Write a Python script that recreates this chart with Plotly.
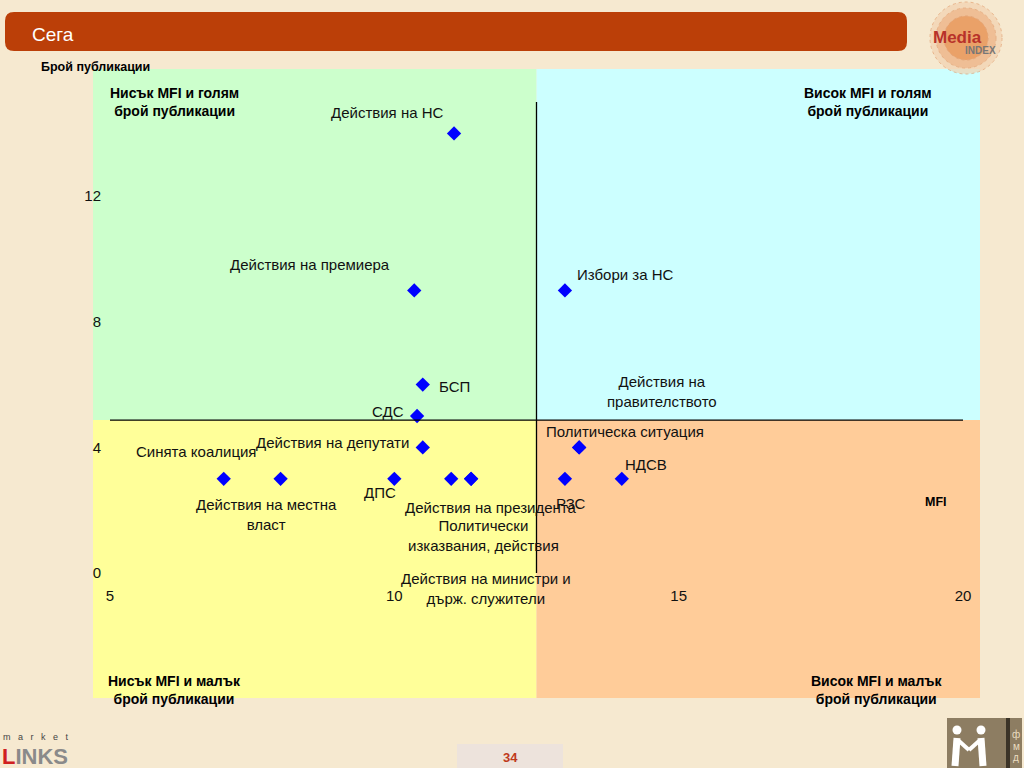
import plotly.graph_objects as go

# ---------------- data ----------------
labels = [
    "Действия на НС", "Действия на премиера", "Избори за НС", "БСП", "СДС",
    "Действия на депутати", "Политическа ситуация", "Действия на<br>правителството",
    "Синята коалиция", "Действия на местна<br>власт", "ДПС",
    "Действия на президента", "Политически<br>изказвания, действия",
    "Действия на министри и<br>държ. служители", "РЗС", "НДСВ",
]
mfi = [11.05, 10.35, 13.0, 10.5, 10.4, 10.5, 13.25, 13.25,
       7.0, 8.0, 10.0, 11.35, 11.0, 11.35, 13.0, 14.0]
publications = [14, 9, 9, 6, 5, 4, 4, 4,
                3, 3, 3, 3, 3, 3, 3, 3]
x_ticks = [5, 10, 15, 20]
y_ticks = [0, 4, 8, 12]
x_cross = 12.5
y_cross = 4.87
quadrant_titles = ["Нисък MFI и голям<br>брой публикации",
                   "Висок MFI и голям<br>брой публикации",
                   "Нисък MFI и малък<br>брой публикации",
                   "Висок MFI и малък<br>брой публикации"]

# label offsets in pixels (dx right, dy down)
offsets = [(-67, -21), (-104, -26), (61, -16), (32, 2), (-29, -5),
           (-90, -5), (46, -16), (83, -56),
           (-28, -27), (-14, 36), (-14, 14),
           (19, 29), (32, 57), (15, 110), (6, 25), (24, -14)]

# ---------------- geometry ----------------
W, H = 1024, 768
L, R, T, B = 110, 963, 102, 573
XR = [5, 20]
YR = [0, 15]

def px(xp):
    return (xp - L) / (R - L)

def py(yp):
    return (B - yp) / (B - T)

FONT = "Liberation Sans, Arial, sans-serif"

fig = go.Figure()
fig.add_trace(go.Scatter(
    x=mfi, y=publications, mode="markers",
    marker=dict(symbol="diamond", size=11, color="#0000ff"),
    hoverinfo="skip", showlegend=False,
))

shapes = []
ann = []

def prect(x0, x1, y0, y1, col, **kw):
    shapes.append(dict(type="rect", xref="paper", yref="paper", x0=px(x0), x1=px(x1),
                       y0=py(y1), y1=py(y0), fillcolor=col, line=dict(width=0), layer="below", **kw))

def pline(x0, y0, x1, y1, col, w):
    shapes.append(dict(type="line", xref="paper", yref="paper", x0=px(x0), x1=px(x1),
                       y0=py(y0), y1=py(y1), line=dict(color=col, width=w), layer="below"))

# quadrant backgrounds
xc = (x_cross - XR[0]) / (XR[1] - XR[0])
yc = (y_cross - YR[0]) / (YR[1] - YR[0])
qx0, qx1, qy0, qy1 = px(93), px(980), py(698), py(69)
for (a, b, c, d, col) in [
    (qx0, xc, yc, qy1, "#ccffcc"),
    (xc, qx1, yc, qy1, "#ccffff"),
    (qx0, xc, qy0, yc, "#ffff99"),
    (xc, qx1, qy0, yc, "#ffcc99"),
]:
    shapes.append(dict(type="rect", xref="paper", yref="paper", x0=a, x1=b, y0=c, y1=d,
                       fillcolor=col, line=dict(width=0), layer="below"))

# axis cross lines
shapes.append(dict(type="line", xref="x", yref="y", x0=x_cross, x1=x_cross, y0=YR[0], y1=YR[1],
                   line=dict(color="#000000", width=1.3)))
shapes.append(dict(type="line", xref="x", yref="y", x0=XR[0], x1=XR[1], y0=y_cross, y1=y_cross,
                   line=dict(color="#000000", width=1.3)))

# header bar (rounded)
hx0, hx1, hy0, hy1, r = 5, 907, 12, 51, 9
path = (f"M {px(hx0 + r)},{py(hy0)} L {px(hx1 - r)},{py(hy0)} "
        f"Q {px(hx1)},{py(hy0)} {px(hx1)},{py(hy0 + r)} L {px(hx1)},{py(hy1 - r)} "
        f"Q {px(hx1)},{py(hy1)} {px(hx1 - r)},{py(hy1)} L {px(hx0 + r)},{py(hy1)} "
        f"Q {px(hx0)},{py(hy1)} {px(hx0)},{py(hy1 - r)} L {px(hx0)},{py(hy0 + r)} "
        f"Q {px(hx0)},{py(hy0)} {px(hx0 + r)},{py(hy0)} Z")
shapes.append(dict(type="path", xref="paper", yref="paper", path=path,
                   fillcolor="#bb3f08", line=dict(width=0), layer="below"))

# Media index logo circles
for rad, col, op in [(36, "#f3d2b0", 0.7), (30, "#eeb487", 0.7), (22, "#e99a5e", 0.8)]:
    shapes.append(dict(type="circle", xref="paper", yref="paper",
                       x0=px(966 - rad), x1=px(966 + rad), y0=py(38 + rad), y1=py(38 - rad),
                       fillcolor=col, opacity=op, line=dict(color="#e3a070", width=1, dash="dot"),
                       layer="below"))

# page number box
prect(457, 563, 744, 768, "#ede3dc")

# bottom right logo (fmd)
prect(947, 1022, 718, 768, "#8d7d62")
prect(1006, 1010, 718, 768, "#3b3327")
for cx in (957, 981):
    shapes.append(dict(type="circle", xref="paper", yref="paper",
                       x0=px(cx - 4.5), x1=px(cx + 4.5), y0=py(730 + 4.5), y1=py(730 - 4.5),
                       fillcolor="#ffffff", line=dict(width=0), layer="below"))
pline(957, 738, 955, 766, "#ffffff", 7)
pline(981, 738, 983, 766, "#ffffff", 7)
pline(959, 741, 969, 750, "#ffffff", 4)
pline(979, 741, 969, 750, "#ffffff", 4)

# point labels
for lab, xv, yv, (dx, dy) in zip(labels, mfi, publications, offsets):
    ann.append(dict(x=xv, y=yv, xref="x", yref="y", text=lab, showarrow=False,
                    xshift=dx, yshift=-dy, font=dict(family=FONT, size=15, color="#111111")))

def txt(x, y, text, size=13, color="#000000", bold=False, xanchor="center", yanchor="middle", family=FONT):
    ann.append(dict(x=px(x), y=py(y), xref="paper", yref="paper", text=(f"<b>{text}</b>" if bold else text),
                    showarrow=False, xanchor=xanchor, yanchor=yanchor,
                    font=dict(family=family, size=size, color=color)))

# quadrant titles
txt(174, 102, quadrant_titles[0], size=14, bold=True)
txt(868, 102, quadrant_titles[1], size=14, bold=True)
txt(174, 690, quadrant_titles[2], size=14, bold=True)
txt(876, 690, quadrant_titles[3], size=14, bold=True)

# axis titles
txt(95, 67, "Брой публикации", size=12.5, bold=True)
txt(936, 502, "MFI", size=12.5, bold=True)

# header text
txt(30, 34, "Сега", size=19, color="#ffffff", xanchor="left")
# logo text
txt(957, 37, "Media", size=17, color="#b8322a", bold=True)
txt(980, 50, "INDEX", size=10, color="#777777", bold=True)
# page number
txt(510, 757, "34", size=13, color="#c0391b", bold=True)
# market links
txt(1, 737, "m&nbsp;&nbsp;&nbsp;a&nbsp;&nbsp;&nbsp;r&nbsp;&nbsp;&nbsp;k&nbsp;&nbsp;&nbsp;e&nbsp;&nbsp;&nbsp;t", size=9, color="#444444", xanchor="left")
txt(0, 756, "<span style='color:#d02020'>L</span>INKS", size=22, color="#8a8a8a", bold=True, xanchor="left")
# fmd letters
txt(1016, 734, "ф", size=10, color="#eadcc0")
txt(1016, 746, "м", size=10, color="#eadcc0")
txt(1016, 757, "д", size=10, color="#eadcc0")

fig.update_layout(
    width=W, height=H,
    margin=dict(l=L, r=W - R, t=T, b=H - B, pad=0),
    paper_bgcolor="#f6e9d0",
    plot_bgcolor="rgba(0,0,0,0)",
    shapes=shapes,
    annotations=ann,
    xaxis=dict(range=XR, tickvals=x_ticks, showgrid=False, zeroline=False, showline=False,
               ticks="", ticklabelstandoff=12, tickfont=dict(family=FONT, size=15, color="#111111")),
    yaxis=dict(range=YR, tickvals=y_ticks, showgrid=False, zeroline=False, showline=False,
               ticks="", ticklabelstandoff=8, tickfont=dict(family=FONT, size=15, color="#111111")),
    font=dict(family=FONT),
)

fig.write_html("out.html", config={"displayModeBar": False},
               post_script="document.body.style.margin='0';document.body.style.padding='0';document.body.style.overflow='hidden';")
